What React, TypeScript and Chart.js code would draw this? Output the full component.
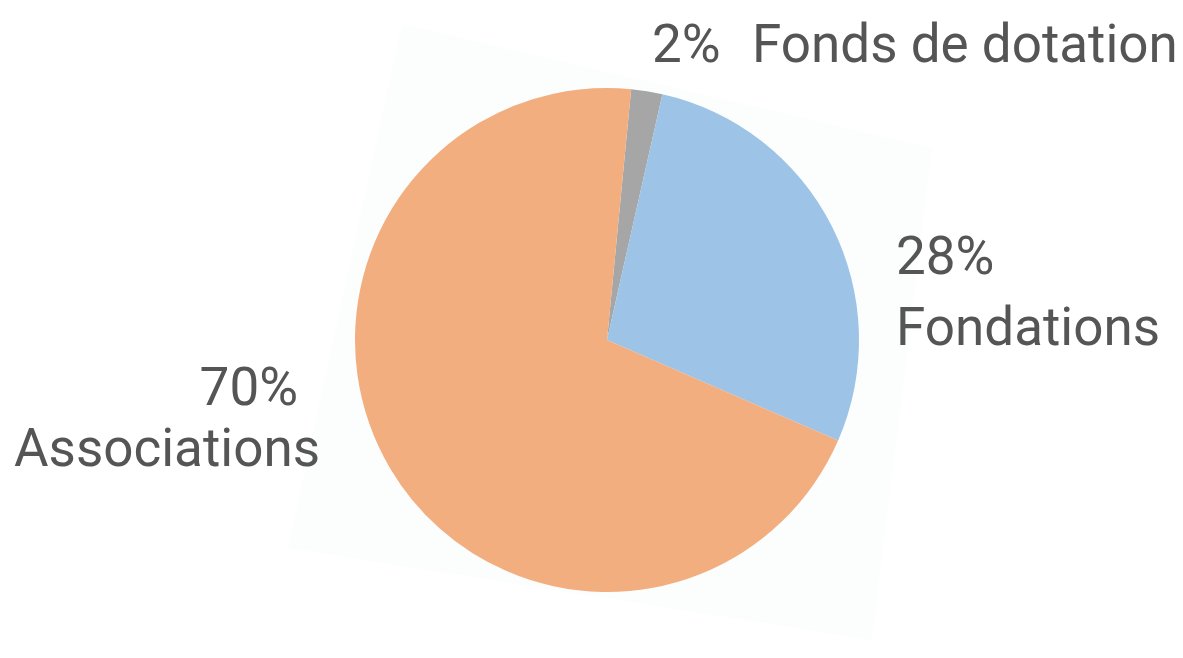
import React, { useEffect, useRef } from "react";
import { Chart, registerables } from "chart.js";

Chart.register(...registerables);

const categories = ["Fonds de dotation", "Fondations", "Associations"];
const shares = [2, 28, 70];
const colors = ["#A6A6A6", "#9DC3E6", "#F2AE7F"];
const percentLabels = ["2%", "28%", "70%"];

const labelPlugin = {
  id: "outerLabels",
  beforeDraw(chart: any) {
    const ctx = chart.ctx;
    ctx.save();
    ctx.fillStyle = "#FCFDFD";
    ctx.beginPath();
    ctx.moveTo(402, 24);
    ctx.lineTo(932, 148);
    ctx.lineTo(872, 640);
    ctx.lineTo(288, 548);
    ctx.closePath();
    ctx.fill();
    ctx.restore();
  },
  afterDraw(chart: any) {
    const ctx = chart.ctx;
    ctx.save();
    ctx.fillStyle = "#555555";
    ctx.font = "53px Roboto";
    ctx.textBaseline = "alphabetic";
    ctx.textAlign = "left";
    ctx.fillText(percentLabels[0], 652, 62);
    ctx.fillText(categories[0], 752, 62);
    ctx.fillText(percentLabels[1], 896, 274);
    ctx.fillText(categories[1], 896, 345);
    ctx.textAlign = "right";
    ctx.fillText(percentLabels[2], 298, 405);
    ctx.fillText(categories[2], 320, 466);
    ctx.restore();
  },
};

export default function App() {
  const ref = useRef<HTMLCanvasElement>(null);
  useEffect(() => {
    document.body.style.margin = "0";
    const chart = new Chart(ref.current!, {
      type: "pie",
      data: {
        labels: categories,
        datasets: [
          {
            data: shares,
            backgroundColor: colors,
            borderWidth: 0,
          },
        ],
      },
      options: {
        animation: false,
        responsive: false,
        rotation: 5.5,
        layout: { padding: { left: 355, right: 324, top: 88, bottom: 66 } },
        plugins: { legend: { display: false }, tooltip: { enabled: false } },
      },
      plugins: [labelPlugin],
    });
    return () => chart.destroy();
  }, []);
  return (
    <div style={{ position: "absolute", left: 0, top: 0, width: 1183, height: 658, background: "#fff" }}>
      <canvas ref={ref} width={1183} height={658} style={{ display: "block" }} />
    </div>
  );
}
